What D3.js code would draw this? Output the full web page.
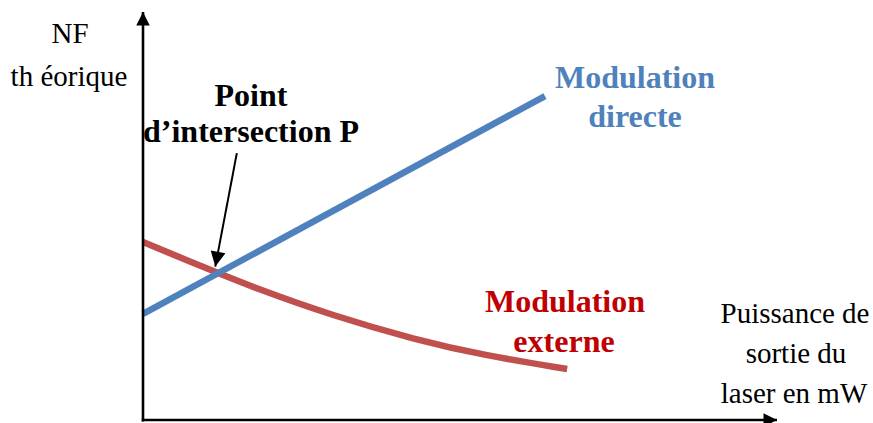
<!DOCTYPE html>
<html>
<head>
<meta charset="utf-8">
<script src="https://cdn.jsdelivr.net/npm/d3@7"></script>
<style>
  body { margin: 0; background: #fff; }
</style>
</head>
<body>
<div id="chart"></div>
<script>
// all data in arbitrary chart units (0..100 on both axes)
const directX = [0, 63.4];
const directY = [26.0, 79.4];

const externeX = [0, 11.4, 16.9, 30.0, 43.2, 53.6, 66.9];
const externeY = [43.6, 36.3, 32.8, 25.5, 19.6, 15.9, 12.5];

// annotation arrow pointing to intersection P
const arrowX = [14.8, 11.4];
const arrowY = [65.4, 37.6];

const width = 873, height = 423;

const x = d3.scaleLinear().domain([0, 100]).range([143, 777]);
const y = d3.scaleLinear().domain([0, 100]).range([420, 12]);

const svg = d3.select("#chart").append("svg")
    .attr("width", width)
    .attr("height", height);

const defs = svg.append("defs");
defs.append("marker")
    .attr("id", "axisHead")
    .attr("viewBox", "0 0 10 10")
    .attr("refX", 10).attr("refY", 5)
    .attr("markerWidth", 6).attr("markerHeight", 5.2)
    .attr("markerUnits", "strokeWidth")
    .attr("orient", "auto")
    .append("path").attr("d", "M0,0L10,5L0,10Z").attr("fill", "#000");
defs.append("marker")
    .attr("id", "pointHead")
    .attr("viewBox", "0 0 10 10")
    .attr("refX", 10).attr("refY", 5)
    .attr("markerWidth", 9).attr("markerHeight", 7.5)
    .attr("markerUnits", "strokeWidth")
    .attr("orient", "auto")
    .append("path").attr("d", "M0,0L10,5L0,10Z").attr("fill", "#000");

// curves
svg.append("path")
    .datum(d3.zip(externeX, externeY))
    .attr("d", d3.line().curve(d3.curveBasis).x(d => x(d[0])).y(d => y(d[1])))
    .attr("fill", "none")
    .attr("stroke", "#c0504d")
    .attr("stroke-width", 6.5);

svg.append("path")
    .datum(d3.zip(directX, directY))
    .attr("d", d3.line().x(d => x(d[0])).y(d => y(d[1])))
    .attr("fill", "none")
    .attr("stroke", "#4f81bd")
    .attr("stroke-width", 6.5);

// axes
svg.append("line")
    .attr("x1", x(0)).attr("y1", y(0) + 1.5)
    .attr("x2", x(0)).attr("y2", y(100))
    .attr("stroke", "#000").attr("stroke-width", 2.6)
    .attr("marker-end", "url(#axisHead)");
svg.append("line")
    .attr("x1", x(0) - 1.3).attr("y1", y(0))
    .attr("x2", x(100)).attr("y2", y(0))
    .attr("stroke", "#000").attr("stroke-width", 2.6)
    .attr("marker-end", "url(#axisHead)");

// annotation arrow
svg.append("line")
    .attr("x1", x(arrowX[0])).attr("y1", y(arrowY[0]))
    .attr("x2", x(arrowX[1])).attr("y2", y(arrowY[1]))
    .attr("stroke", "#000").attr("stroke-width", 2)
    .attr("marker-end", "url(#pointHead)");

// labels
const labels = [
  {t: "NF", x: 70, y: 43, size: 29, bold: false, color: "#000"},
  {t: "th éorique", x: 69, y: 86, size: 29, bold: false, color: "#000"},
  {t: "Point", x: 251, y: 106, size: 32, bold: true, color: "#000"},
  {t: "d’intersection P", x: 251, y: 142, size: 32, bold: true, color: "#000"},
  {t: "Modulation", x: 635, y: 88, size: 32, bold: true, color: "#4f81bd"},
  {t: "directe", x: 635, y: 127, size: 32, bold: true, color: "#4f81bd"},
  {t: "Modulation", x: 565, y: 312, size: 32, bold: true, color: "#c00000"},
  {t: "externe", x: 564, y: 352, size: 32, bold: true, color: "#c00000"},
  {t: "Puissance de", x: 795, y: 323, size: 29, bold: false, color: "#000"},
  {t: "sortie du", x: 796, y: 363, size: 29, bold: false, color: "#000"},
  {t: "laser en mW", x: 794, y: 403, size: 29, bold: false, color: "#000"}
];

svg.selectAll("text.lbl")
    .data(labels)
    .join("text")
    .attr("class", "lbl")
    .attr("x", d => d.x)
    .attr("y", d => d.y)
    .attr("text-anchor", "middle")
    .style("font-family", "Liberation Serif")
    .attr("font-size", d => d.size)
    .attr("font-weight", d => d.bold ? 700 : 400)
    .attr("fill", d => d.color)
    .text(d => d.t);
</script>
</body>
</html>
